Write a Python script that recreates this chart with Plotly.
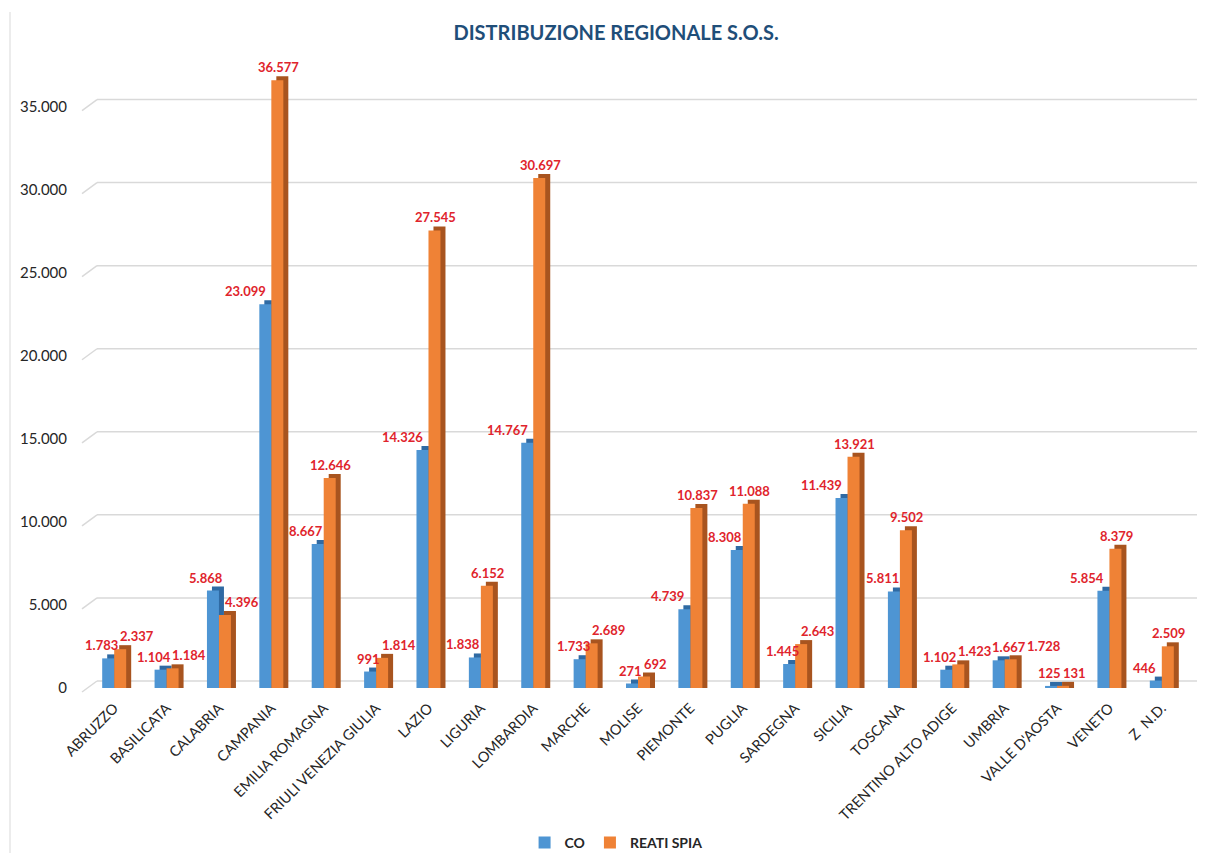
import plotly.graph_objects as go
import numpy as np

# data
regioni = [
    "ABRUZZO", "BASILICATA", "CALABRIA", "CAMPANIA", "EMILIA ROMAGNA",
    "FRIULI VENEZIA GIULIA", "LAZIO", "LIGURIA", "LOMBARDIA", "MARCHE",
    "MOLISE", "PIEMONTE", "PUGLIA", "SARDEGNA", "SICILIA", "TOSCANA",
    "TRENTINO ALTO ADIGE", "UMBRIA", "VALLE D'AOSTA", "VENETO", "Z  N.D.",
]
co = [1783, 1104, 5868, 23099, 8667, 991, 14326, 1838, 14767, 1733,
      271, 4739, 8308, 1445, 11439, 5811, 1102, 1667, 125, 5854, 446]
reati_spia = [2337, 1184, 4396, 36577, 12646, 1814, 27545, 6152, 30697, 2689,
              692, 10837, 11088, 2643, 13921, 9502, 1423, 1728, 131, 8379, 2509]
y_ticks = [0, 5000, 10000, 15000, 20000, 25000, 30000, 35000]

# layout constants
W, H = 1208, 853
M_L, M_R, M_T, M_B = 88, 20, 65, 165
Y_MAX = 37500
plot_w = W - M_L - M_R
plot_h = H - M_T - M_B
n = len(regioni)
px_x = plot_w / n              # pixels per category
px_y = plot_h / Y_MAX          # pixels per unit

BAR_PX = 12
DEPTH_PX = 5
BAR_W = BAR_PX / px_x
DEPTH_X = DEPTH_PX / px_x
DEPTH_Y = 4 / px_y

BLUE, BLUE_D = "#4e95d3", "#2f6aa3"
ORANGE, ORANGE_D = "#ef8236", "#a8541f"
RED = "#e0242c"
GRID = "#d9d9d9"
FONT = "Lato, 'Open Sans', sans-serif"

x = np.arange(n)
co_arr = np.array(co)
rs_arr = np.array(reati_spia)


def fmt(v):
    return f"{v:,}".replace(",", ".")


def text_w(s):
    # rough width of a bold 13px label
    return sum(3.5 if c == "." else 6.9 for c in s)


fig = go.Figure()

# "3D" depth behind each bar, then the front faces
for vals, off, col_d, col, name in [
    (co_arr, -BAR_W, BLUE_D, BLUE, "CO"),
    (rs_arr, 0.0, ORANGE_D, ORANGE, "REATI SPIA"),
]:
    fig.add_trace(go.Bar(
        x=x, y=vals + DEPTH_Y, offset=off + DEPTH_X, width=BAR_W,
        marker=dict(color=col_d, line=dict(width=0)),
        showlegend=False, hoverinfo="skip",
    ))
    fig.add_trace(go.Bar(
        x=x, y=vals, offset=off, width=BAR_W, name=name,
        marker=dict(color=col, line=dict(width=0)),
        customdata=regioni,
        hovertemplate="%{customdata}<br>" + name + ": %{y:,d}<extra></extra>",
    ))

# value labels: centre x (px, relative to category centre) for each pair
lab = []
for i in range(n):
    tb, to = fmt(co[i]), fmt(reati_spia[i])
    wb, wo = text_w(tb), text_w(to)
    hb, ho = co[i] * px_y, reati_spia[i] * px_y
    close = abs(hb - ho) < 25
    if close:
        cb = 3 - wb / 2
        c_o = 7 + wo / 2
    else:
        cb = -BAR_PX / 2 - 1 - wb / 2
        c_o = BAR_PX / 2 + 1
        if co[i] > reati_spia[i]:
            c_o = max(c_o, 4 + wo / 2)
    lab.append(dict(cb=cb, co=c_o, wb=wb, wo=wo, hb=hb, ho=ho,
                    tb=tb, to=to, close=close))

# keep blue labels clear of the previous pair's bars and labels
for i in range(1, n):
    L, P = lab[i], lab[i - 1]
    lo = -1e9
    prev_top = max(co[i - 1], reati_spia[i - 1]) * px_y + 4
    if prev_top > L["hb"]:
        lo = -px_x + BAR_PX + DEPTH_PX + 2
    if abs(P["ho"] - L["hb"]) < 14:
        lo = max(lo, P["co"] + P["wo"] / 2 - px_x + 3)
    left = L["cb"] - L["wb"] / 2
    if left < lo:
        L["cb"] += lo - left
        if L["close"] or abs(L["ho"] - L["hb"]) < 14:
            L["co"] = max(L["co"], L["cb"] + L["wb"] / 2 + 4 + L["wo"] / 2)

annotations = []
for i, L in enumerate(lab):
    for val, cx, txt in [(co[i], L["cb"], L["tb"]),
                         (reati_spia[i], L["co"], L["to"])]:
        annotations.append(dict(
            x=i, y=val, xshift=cx, yshift=3, text=txt, showarrow=False,
            xanchor="center", yanchor="bottom",
            font=dict(family=FONT, size=13, color=RED, weight="bold"),
        ))

# Excel-style 3D floor/back-wall gridlines
shapes = []
for t in y_ticks:
    yb = (t * px_y + 7) / plot_h
    yf = (t * px_y - 4) / plot_h
    shapes.append(dict(type="line", xref="paper", yref="paper",
                       x0=(97 - M_L) / plot_w, x1=(1197 - M_L) / plot_w,
                       y0=yb, y1=yb, line=dict(color=GRID, width=1.5),
                       layer="below"))
    shapes.append(dict(type="line", xref="paper", yref="paper",
                       x0=(82 - M_L) / plot_w, x1=(97 - M_L) / plot_w,
                       y0=yf, y1=yb, line=dict(color=GRID, width=1.5),
                       layer="below"))
# chart border on the left
shapes.append(dict(
    type="line", xref="paper", yref="paper",
    x0=(10 - M_L) / plot_w, x1=(10 - M_L) / plot_w,
    y0=(H - M_B - 12) / plot_h, y1=-M_B / plot_h,
    line=dict(color=GRID, width=1),
))

fig.update_layout(
    width=W, height=H,
    margin=dict(l=M_L, r=M_R, t=M_T, b=M_B, autoexpand=False),
    barmode="overlay",
    plot_bgcolor="rgba(0,0,0,0)",
    paper_bgcolor="white",
    separators=",.",
    font=dict(family=FONT, color="#262626"),
    title=dict(
        text="DISTRIBUZIONE REGIONALE S.O.S.",
        x=0.51, xanchor="center", y=1 - 33 / H, yanchor="middle",
        font=dict(family=FONT, size=20, color="#1f4e79", weight="bold"),
    ),
    xaxis=dict(
        range=[-0.5, n - 0.5], automargin=False,
        tickmode="array", tickvals=list(x), ticktext=regioni,
        tickangle=-45, ticks="", showgrid=False, zeroline=False,
        showline=False, ticklabelstandoff=8,
        tickfont=dict(family=FONT, size=14.5, color="#262626"),
    ),
    yaxis=dict(
        range=[0, Y_MAX], automargin=False,
        tickmode="array", tickvals=y_ticks,
        tickformat=",d",
        showgrid=False, zeroline=False,
        showline=False, ticks="", ticklabelstandoff=20,
        tickfont=dict(family=FONT, size=15, color="#262626"),
    ),
    legend=dict(
        orientation="h", xref="container", x=0.51, xanchor="center",
        yref="container", y=1 - 843 / H, yanchor="middle",
        font=dict(family=FONT, size=14, color="#262626", weight="bold"),
        itemwidth=30, traceorder="normal",
    ),
    annotations=annotations,
    shapes=shapes,
)

fig.write_html("out.html", config={"displayModeBar": False},
               post_script="document.body.style.margin='0';")
